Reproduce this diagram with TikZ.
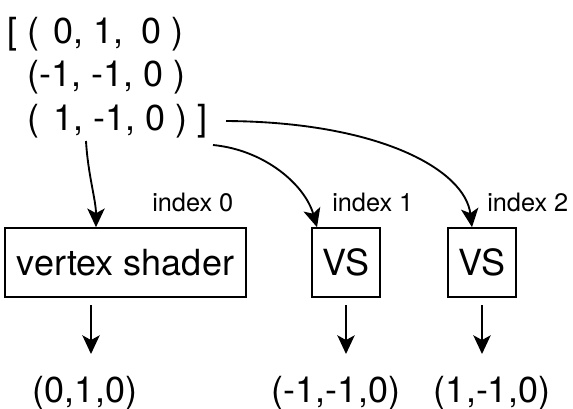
\documentclass[tikz,border=0pt]{standalone}
\usepackage{fontspec}
\setmainfont{TeX Gyre Heros}
\usetikzlibrary{arrows.meta}

\tikzset{
  shaderbox/.style={draw, line width=1.2pt, inner sep=0pt, minimum height=51.75pt,
    font=\fontsize{27}{32}\selectfont},
  vtxlabel/.style={inner sep=0pt, font=\fontsize{27}{32}\selectfont},
  idxlabel/.style={inner sep=0pt, anchor=base west, font=\fontsize{19}{23}\selectfont},
  feed/.style={line width=1.4pt, -{Stealth[length=14pt,width=13pt,inset=3.5pt]}},
}

\begin{document}
\begin{tikzpicture}[x=0.75pt,y=-0.75pt]
    \useasboundingbox (0,0) rectangle (573,408);
    % vertex list
    \node[vtxlabel, anchor=base west] (row0) at (7,43) {[ (\hspace{10.9pt}0, 1,\hspace{13.5pt}0 )};
    \node[vtxlabel, anchor=base west] (row1) at (27,86) {(-1, -1, 0 )};
    \node[vtxlabel, anchor=base west] (row2) at (27,130) {(\hspace{10.9pt}1, -1, 0 ) ]};
    % shaders
    \node[shaderbox, minimum width=180.75pt] (vs0) at (125.5,262.5) {vertex shader};
    \node[shaderbox, minimum width=51pt] (vs1) at (346,262.5) {VS};
    \node[shaderbox, minimum width=51pt] (vs2) at (482,262.5) {VS};
    \node[idxlabel] (idx0) at (152,211) {index 0};
    \node[idxlabel] (idx1) at (332,211) {index 1};
    \node[idxlabel] (idx2) at (487,211) {index 2};
    % outputs
    \node[vtxlabel, anchor=base] (out0) at (85,402) {(0,1,0)};
    \node[vtxlabel, anchor=base] (out1) at (336,402) {(-1,-1,0)};
    \node[vtxlabel, anchor=base] (out2) at (492,402) {(1,-1,0)};
    % arrows in
    \coordinate (a0) at (86,141);
    \coordinate (a1) at (213,145);
    \coordinate (a2) at (226,121);
    \draw[feed] (a0) .. controls (88,175) and (96,200) .. (96,0 |- vs0.north);
    \draw[feed] (a1) .. controls (265,150) and (305,185) .. (317,0 |- vs1.north);
    \draw[feed] (a2) .. controls (380,122) and (465,170) .. (472,0 |- vs2.north);
    % arrows out
    \coordinate (d0) at (91,305);
    \coordinate (d1) at (346,305);
    \coordinate (d2) at (482,305);
    \draw[feed] (d0) -- (91,354);
    \draw[feed] (d1) -- (346,354);
    \draw[feed] (d2) -- (482,354);
\end{tikzpicture}
\end{document}
